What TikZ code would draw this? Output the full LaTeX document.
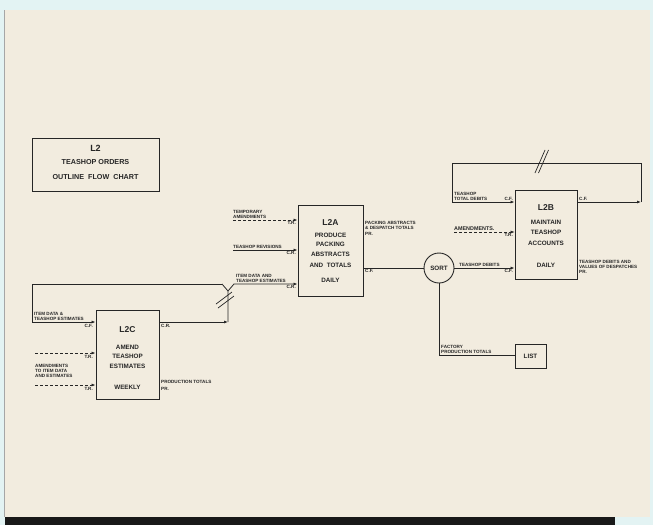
\documentclass[tikz,border=0pt]{standalone}
\usepackage{fontspec}
\setmainfont{Liberation Sans}
\usetikzlibrary{arrows.meta}
\definecolor{ink}{HTML}{262626}
\definecolor{paper}{HTML}{F2ECDF}
\definecolor{sky}{HTML}{E3F3F3}
\tikzset{
  procbox/.style={draw=ink, line width=0.9pt, inner sep=0pt},
  boxname/.style={text=ink, inner sep=0pt, font=\fontsize{8.5}{9}\selectfont\bfseries},
  boxtxt/.style={text=ink, inner sep=0pt, font=\fontsize{6.3}{7}\selectfont\bfseries},
  lbl/.style={text=ink, inner sep=0pt, align=left, font=\fontsize{4.6}{4.9}\selectfont\bfseries},
  flow/.style={draw=ink, line width=0.8pt},
  arr/.style={flow, -{Latex[length=4pt,width=3pt]}},
  dflow/.style={arr, dash pattern=on 3pt off 2pt},
}
\begin{document}
\begin{tikzpicture}[x=1pt,y=-1pt]
\useasboundingbox (0,0) rectangle (653,525);
% background
\fill[sky] (0,0) rectangle (653,525);
\fill[paper] (4,10) rectangle (650,517);
\draw[gray!70, line width=0.6pt] (4.3,10) -- (4.3,517);
\fill[black!90] (5,517) rectangle (615,525);

% title box
\node[procbox, minimum width=127pt, minimum height=53pt] (title) at (95.5,164.5) {};
\node[boxname, font=\fontsize{9}{9}\selectfont\bfseries] (t1) at (95.5,148) {L2};
\node[boxtxt, font=\fontsize{7.2}{8}\selectfont\bfseries] (t2) at (95.5,162) {TEASHOP ORDERS};
\node[boxtxt, font=\fontsize{7.2}{8}\selectfont\bfseries] (t3) at (95.5,177) {OUTLINE\ \ FLOW\ \ CHART};

% L2C
\node[procbox, minimum width=63pt, minimum height=89pt] (l2c) at (127.5,354.5) {};
\node[boxname] (c1) at (127.5,330) {L2C};
\node[boxtxt] (c2) at (127.5,347) {AMEND};
\node[boxtxt] (c3) at (127.5,356.5) {TEASHOP};
\node[boxtxt] (c4) at (127.5,366) {ESTIMATES};
\node[boxtxt] (c5) at (127.5,387) {WEEKLY};

% L2A
\node[procbox, minimum width=65pt, minimum height=91pt] (l2a) at (330.5,250.5) {};
\node[boxname] (a1) at (330.5,223) {L2A};
\node[boxtxt] (a2) at (330.5,235) {PRODUCE};
\node[boxtxt] (a3) at (330.5,244.5) {PACKING};
\node[boxtxt] (a4) at (330.5,254) {ABSTRACTS};
\node[boxtxt] (a5) at (330.5,265.5) {AND\ \ TOTALS};
\node[boxtxt] (a6) at (330.5,280) {DAILY};

% L2B
\node[procbox, minimum width=62pt, minimum height=89pt] (l2b) at (546,234.5) {};
\node[boxname] (b1) at (546,208) {L2B};
\node[boxtxt] (b2) at (546,222.5) {MAINTAIN};
\node[boxtxt] (b3) at (546,232) {TEASHOP};
\node[boxtxt] (b4) at (546,243) {ACCOUNTS};
\node[boxtxt] (b5) at (546,265) {DAILY};

% SORT and LIST
\node[draw=ink, line width=0.9pt, circle, minimum size=30pt, inner sep=0pt, boxtxt] (sort) at (439,268) {SORT};
\node[procbox, minimum width=31pt, minimum height=24pt, boxtxt] (list) at (530.5,356) {LIST};

% ---- L2C loop ----
\coordinate (cl1) at (32,284);
\coordinate (cl2) at (32,322);
\coordinate (yL) at (222,284);
\coordinate (yR) at (234,284);
\coordinate (yC) at (228,291);
\coordinate (yB) at (228,322);
\draw[arr] (yL) -- (cl1) -- (cl2) -- (cl2 -| l2c.west);
\draw[arr] (yB -| l2c.east) -- (yB);
\draw[flow] (yB) -- (yC) -- (yL);
\draw[arr] (yC) -- (yR) -- (yR -| l2a.west);
\coordinate (s1a) at (216,304); \coordinate (s1b) at (232,292);
\coordinate (s2a) at (218,308); \coordinate (s2b) at (234,296);
\draw[flow, line width=0.7pt] (s1a) -- (s1b);
\draw[flow, line width=0.7pt] (s2a) -- (s2b);

\node[lbl, anchor=south west] (lc1) at (34,320.5) {ITEM DATA \&\\TEASHOP ESTIMATES};
\node[lbl, anchor=north east] (lc2) at (93,323.8) {C.F.};
\node[lbl, anchor=north west] (lc3) at (161,323.8) {C.R.};

% dashed inputs to L2C
\coordinate (d1) at (35,353);
\coordinate (d2) at (35,385);
\draw[dflow] (d1) -- (d1 -| l2c.west);
\draw[dflow] (d2) -- (d2 -| l2c.west);
\node[lbl, anchor=north east] (lc4) at (93,354.8) {T.R.};
\node[lbl, anchor=north east] (lc5) at (93,386.8) {T.R.};
\node[lbl, anchor=north west] (lc6) at (35,364.5) {AMENDMENTS\\TO ITEM DATA\\AND ESTIMATES};
\node[lbl, anchor=south west] (lc7) at (161,384) {PRODUCTION TOTALS};
\node[lbl, anchor=north west] (lc8) at (161,387) {PR.};

% ---- L2A inputs ----
\coordinate (ta) at (233,220);
\coordinate (tr) at (233,250);
\draw[dflow] (ta) -- (ta -| l2a.west);
\draw[arr] (tr) -- (tr -| l2a.west);
\node[lbl, anchor=south west] (la1) at (233,218.5) {TEMPORARY\\AMENDMENTS};
\node[lbl, anchor=north east] (la2) at (296,221.5) {T.R.};
\node[lbl, anchor=south west] (la3) at (233,248.5) {TEASHOP REVISIONS};
\node[lbl, anchor=north east] (la4) at (296,251.5) {C.R.};
\node[lbl, anchor=south west] (la5) at (236,282.5) {ITEM DATA AND\\TEASHOP ESTIMATES};
\node[lbl, anchor=north east] (la6) at (296,285.5) {C.R.};
\node[lbl, anchor=north west] (la7) at (365,221) {PACKING ABSTRACTS\\\& DESPATCH TOTALS};
\node[lbl, anchor=north west] (la8) at (365,232) {PR.};

% L2A to SORT
\draw[flow] (l2a.east |- sort.west) -- (sort.west);
\node[lbl, anchor=north west] (la9) at (365,269.5) {C.F.};

% SORT to L2B
\draw[arr] (sort.east) -- (sort.east -| l2b.west);
\node[lbl, anchor=south west] (lb1) at (459,266.5) {TEASHOP DEBITS};
\node[lbl, anchor=north east] (lb2) at (513,269.5) {C.F.};

% SORT to LIST
\coordinate (sl) at (439,355);
\draw[flow] (sort.south) -- (sl) -- (sl -| list.west);
\node[lbl, anchor=south west] (lb3) at (441,353.5) {FACTORY\\PRODUCTION TOTALS};

% ---- L2B loop ----
\coordinate (r1) at (641,202);
\coordinate (r2) at (641,163);
\coordinate (r3) at (452,163);
\coordinate (r4) at (452,202);
\draw[arr] (r1 -| l2b.east) -- (r1);
\draw[arr] (r1) -- (r2) -- (r3) -- (r4) -- (r4 -| l2b.west);
\coordinate (s3a) at (535,173); \coordinate (s3b) at (545,150);
\coordinate (s4a) at (538.5,173); \coordinate (s4b) at (548.5,150);
\draw[flow, line width=0.7pt] (s3a) -- (s3b);
\draw[flow, line width=0.7pt] (s4a) -- (s4b);
\node[lbl, anchor=south west] (lb4) at (454,200.5) {TEASHOP\\TOTAL DEBITS};
\node[lbl, anchor=south east] (lb5) at (513,200.5) {C.F.};
\node[lbl, anchor=south west] (lb6) at (579,200.5) {C.F.};

% amendments to L2B
\coordinate (am) at (454,232);
\draw[dflow, line width=0.5pt] (am) -- (am -| l2b.west);
\node[lbl, anchor=south west, font=\fontsize{5.4}{5.8}\selectfont\bfseries] (lb7) at (454,230.5) {AMENDMENTS.};
\node[lbl, anchor=north east] (lb8) at (513,233.5) {T.R.};

% L2B output labels
\node[lbl, anchor=south west] (lb9) at (579,268.5) {TEASHOP DEBITS AND\\VALUES OF DESPATCHES};
\node[lbl, anchor=north west] (lb10) at (579,270.5) {PR.};
\end{tikzpicture}
\end{document}
